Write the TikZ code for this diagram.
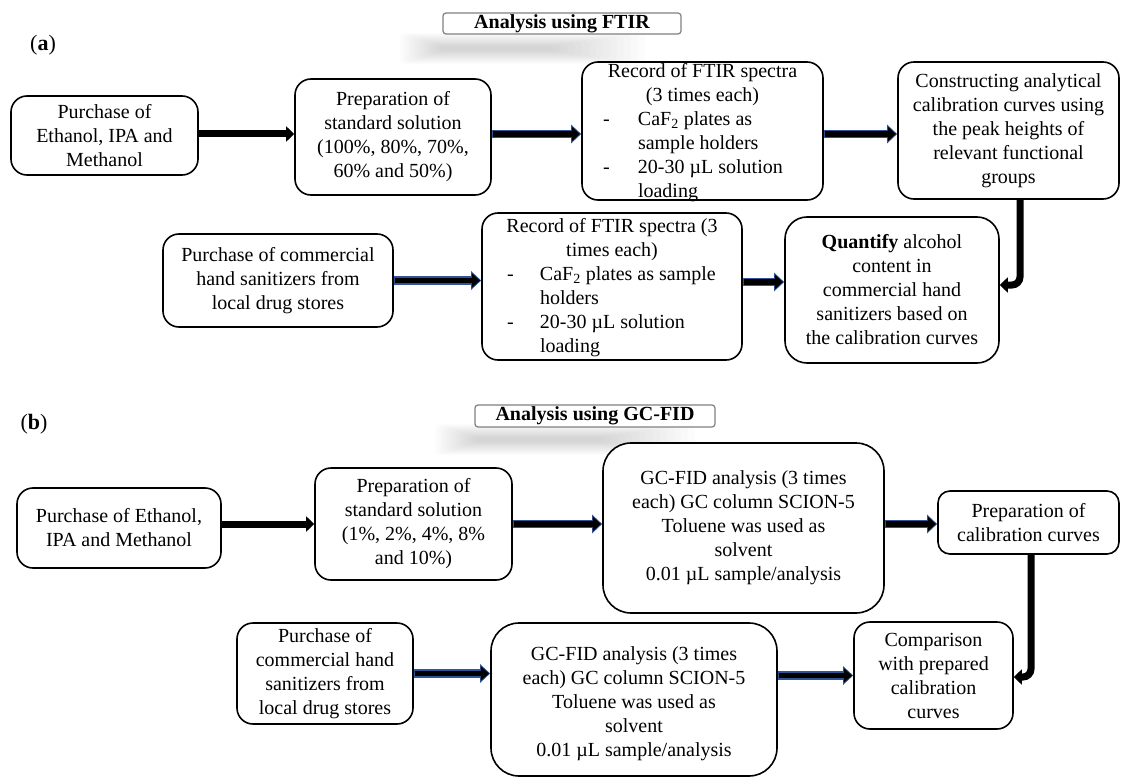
\documentclass[tikz,border=0pt]{standalone}
\usepackage{fontspec}
\setmainfont{Liberation Serif}
\usetikzlibrary{arrows.meta}
\definecolor{edgeblue}{RGB}{47,85,151}
\definecolor{titlegray}{RGB}{128,128,128}
\newcommand{\bluearrow}[2]{\draw[blueedge] #1 -- #2; \draw[blackcore] #1 -- #2;}
\begin{document}
\begin{tikzpicture}[x=1pt,y=-1pt,
  every node/.style={font=\fontsize{20}{24}\selectfont, inner sep=0pt},
  box/.style={draw, line width=1.6pt, rounded corners=16pt, fill=white, align=center},
  bigbox/.style={box, rounded corners=28pt},
  panellabel/.style={font=\fontsize{22}{24}\selectfont},
  titlebox/.style={draw=titlegray, line width=1.2pt, rounded corners=3pt, fill=white,
    font=\fontsize{20}{24}\selectfont\bfseries},
  blackarrow/.style={black, line width=7pt, -{Triangle[length=8pt,width=15pt]}},
  blueedge/.style={edgeblue, line width=8.5pt, -{Triangle[length=10pt,width=18pt]}},
  blackcore/.style={black, line width=5.5pt, -{Triangle[length=8pt,width=14pt]}, shorten >=1.3pt, shorten <=0.8pt},
  elbow/.style={black, line width=7pt, rounded corners=8pt, -{Triangle[length=8pt,width=15pt]}},
]
\fill[white] (0,0) rectangle (1122,781);
\useasboundingbox (0,0) rectangle (1122,781);

% soft shadows under titles
\foreach \i in {0,...,13} {
  \fill[black, opacity=0.011, rounded corners=4pt] (400+\i*3, 33+\i*1) rectangle (645-\i*7, 64-\i*1);
  \fill[black, opacity=0.011, rounded corners=4pt] (435+\i*3, 424+\i*1) rectangle (695-\i*7, 455-\i*1);
}

% ---------------- (a) ----------------
\node[panellabel] (La) at (43,45) {(\textbf{a})};
\node[titlebox, minimum width=238pt, minimum height=21pt] (Ta) at (562,23.5) {Analysis using FTIR};

\node[box, minimum width=187pt, minimum height=79pt] (A1) at (104.5,135.5)
  {Purchase of\\Ethanol, IPA and\\Methanol};
\node[box, minimum width=196pt, minimum height=116pt] (A2) at (393,137)
  {Preparation of\\standard solution\\(100\%, 80\%, 70\%,\\60\% and 50\%)};
\node[box, minimum width=241pt, minimum height=138pt] (A3) at (702.5,131) {};
\node (A3t) at (702.5,133) {\parbox{241pt}{\centering Record of FTIR spectra\\(3 times each)\par
  \raggedright\hspace*{21pt}\makebox[35pt][l]{-}CaF\textsubscript{2} plates as\\
  \hspace*{56pt}sample holders\\
  \hspace*{21pt}\makebox[35pt][l]{-}20-30 µL solution\\
  \hspace*{56pt}loading}};
\node[box, minimum width=221pt, minimum height=137pt] (A4) at (1008.5,130.5)
  {Constructing analytical\\calibration curves using\\the peak heights of\\relevant functional\\groups};

\node[box, minimum width=230pt, minimum height=93pt] (A5) at (278,280.5)
  {Purchase of commercial\\hand sanitizers from\\local drug stores};
\node[box, minimum width=260pt, minimum height=147pt] (A6) at (612,286.5) {};
\node (A6t) at (612,288) {\parbox{260pt}{\centering Record of FTIR spectra (3\\times each)\par
  \raggedright\hspace*{25pt}\makebox[33pt][l]{-}CaF\textsubscript{2} plates as sample\\
  \hspace*{58pt}holders\\
  \hspace*{25pt}\makebox[33pt][l]{-}20-30 µL solution\\
  \hspace*{58pt}loading}};
\node[box, rounded corners=22pt, minimum width=214pt, minimum height=146pt] (A7) at (892,290)
  {\textbf{Quantify} alcohol\\content in\\commercial hand\\sanitizers based on\\the calibration curves};

\draw[blackarrow] ([yshift=1.5pt]A1.east) -- ([yshift=1.5pt]A1.east -| A2.west);
\bluearrow{([yshift=1.5pt]A1.east -| A2.east)}{([yshift=1.5pt]A1.east -| A3.west)}
\bluearrow{([yshift=1.5pt]A1.east -| A3.east)}{([yshift=1.5pt]A1.east -| A4.west)}
\bluearrow{(A5.east)}{(A5.east -| A6.west)}
\bluearrow{([yshift=-1.5pt]A5.east -| A6.east)}{([yshift=-1.5pt]A5.east -| A7.west)}
\draw[elbow] ([xshift=11.5pt]A4.south) |- ([yshift=5pt]A7.east);

% ---------------- (b) ----------------
\node[panellabel] (Lb) at (34,424) {(\textbf{b})};
\node[titlebox, minimum width=240pt, minimum height=22pt] (Tb) at (595,416) {Analysis using GC-FID};

\node[box, minimum width=204pt, minimum height=80pt] (B1) at (119,528)
  {Purchase of Ethanol,\\IPA and Methanol};
\node[box, minimum width=197pt, minimum height=112pt] (B2) at (413.5,524)
  {Preparation of\\standard solution\\(1\%, 2\%, 4\%, 8\%\\and 10\%)};
\node[bigbox, minimum width=281pt, minimum height=170pt] (B3) at (743.5,528)
  {GC-FID analysis (3 times\\each) GC column SCION-5\\Toluene was used as\\solvent\\0.01 µL sample/analysis};
\node[box, rounded corners=12pt, minimum width=181pt, minimum height=63pt] (B4) at (1028.5,522.5)
  {Preparation of\\calibration curves};

\node[box, minimum width=176pt, minimum height=101pt] (B5) at (325,673.5)
  {Purchase of\\commercial hand\\sanitizers from\\local drug stores};
\node[bigbox, minimum width=286pt, minimum height=153pt] (B6) at (634,699.5) {};
\node[align=center] (B6t) at (634,704)
  {GC-FID analysis (3 times\\each) GC column SCION-5\\Toluene was used as\\solvent\\0.01 µL sample/analysis};
\node[box, minimum width=159pt, minimum height=107pt] (B7) at (933.5,675.5)
  {Comparison\\with prepared\\calibration\\curves};

\draw[blackarrow] (B2.west -| B1.east) -- (B2.west);
\bluearrow{(B2.east)}{(B2.east -| B3.west)}
\bluearrow{(B2.east -| B3.east)}{(B2.east -| B4.west)}
\bluearrow{(B5.east)}{(B5.east -| B6.west)}
\bluearrow{(B7.west -| B6.east)}{(B7.west)}
\draw[elbow] ([xshift=2.5pt]B4.south) |- ([yshift=-1.5pt]B7.east);
\end{tikzpicture}
\end{document}
